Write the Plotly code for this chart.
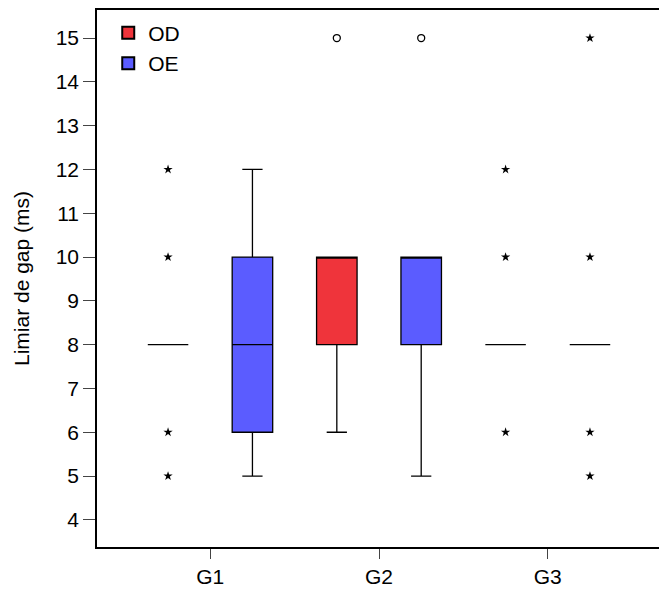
import plotly.graph_objects as go

groups = ["G1", "G2", "G3"]
group_pos = [1, 2, 3]

# OD (red) box statistics
od_q1 = [8, 8, 8]
od_med = [8, 10, 8]
od_q3 = [8, 10, 8]
od_low = [8, 6, 8]
od_up = [8, 10, 8]
# OE (blue) box statistics
oe_q1 = [6, 8, 8]
oe_med = [8, 10, 8]
oe_q3 = [10, 10, 8]
oe_low = [5, 5, 8]
oe_up = [12, 10, 8]

# outliers (circles) and extremes (asterisks): (group index, value)
od_outliers = [(1, 15)]
oe_outliers = [(1, 15)]
od_extremes = [(0, 12), (0, 10), (0, 6), (0, 5), (2, 12), (2, 10), (2, 6)]
oe_extremes = [(2, 15), (2, 10), (2, 6), (2, 5)]

RED = "#EF343B"
BLUE = "#5B5CFF"
OFF = 0.25
BW = 0.24

fig = go.Figure()

def add_series(name, color, q1, med, q3, low, up, sign, outl, extr):
    xs = [p + sign * OFF for p in group_pos]
    fig.add_trace(go.Box(
        name=name, x=xs, q1=q1, median=med, q3=q3,
        lowerfence=low, upperfence=up, boxpoints=False,
        width=BW, whiskerwidth=0.5,
        fillcolor=color, line=dict(color="black", width=1.3),
        showlegend=True,
    ))
    fig.add_trace(go.Scatter(
        x=[group_pos[g] + sign * OFF for g, v in outl], y=[v for g, v in outl],
        mode="markers", marker=dict(symbol="circle-open", size=7, color="black", line=dict(width=1.3)),
        showlegend=False, hoverinfo="skip",
    ))
    fig.add_trace(go.Scatter(
        x=[group_pos[g] + sign * OFF for g, v in extr], y=[v for g, v in extr],
        mode="markers", marker=dict(symbol="star", size=7, color="black", line=dict(width=0)),
        showlegend=False, hoverinfo="skip",
    ))

add_series("OD", RED, od_q1, od_med, od_q3, od_low, od_up, -1, od_outliers, od_extremes)
add_series("OE", BLUE, oe_q1, oe_med, oe_q3, oe_low, oe_up, 1, oe_outliers, oe_extremes)

fig.update_layout(
    width=659, height=592,
    margin=dict(l=97, r=0, t=10, b=45),
    plot_bgcolor="white", paper_bgcolor="white",
    font=dict(family="Liberation Sans, Arial", size=21, color="black"),
    legend=dict(x=0.02, y=0.995, xanchor="left", yanchor="top",
                font=dict(size=21), bgcolor="rgba(0,0,0,0)",
                itemsizing="constant", tracegroupgap=0, itemwidth=30),
    xaxis=dict(
        range=[0.329, 3.659], tickmode="array", tickvals=group_pos, ticktext=groups,
        ticks="outside", ticklen=10, tickcolor="#444", showgrid=False, zeroline=False,
        showline=True, linecolor="black", linewidth=1.5, mirror=True,
        tickfont=dict(size=21),
    ),
    yaxis=dict(
        range=[3.38, 15.64], tickmode="array", tickvals=list(range(4, 16)),
        ticks="outside", ticklen=12, tickcolor="#444", showgrid=False, zeroline=False,
        showline=True, linecolor="black", linewidth=1.5, mirror=False,
        tickfont=dict(size=21),
        title=dict(text="Limiar de gap (ms)", font=dict(size=21), standoff=20),
    ),
)

fig.write_html(
    "out.html",
    config={"displayModeBar": False},
    post_script="document.body.style.margin='0';document.body.style.overflow='hidden';",
)
